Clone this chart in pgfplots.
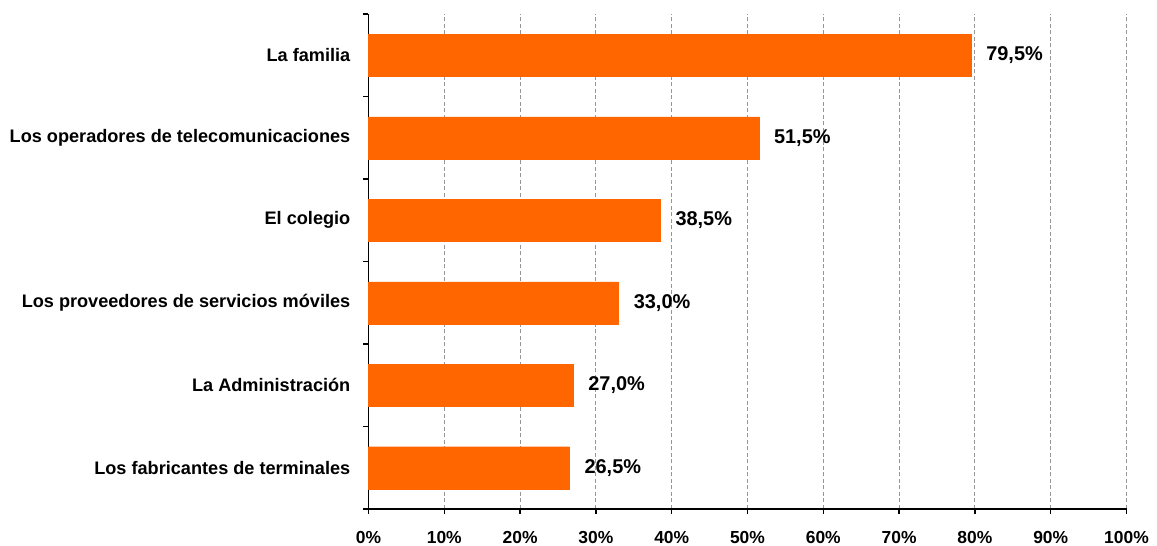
\documentclass[border=0pt]{standalone}
\usepackage{pgfplots}
\pgfplotsset{compat=1.18}
\usepackage{pgfplotstable}
\usepackage{fontspec}
\setmainfont{Liberation Sans}
\definecolor{barorange}{RGB}{255,102,0}
\definecolor{gridgray}{RGB}{150,150,150}
\pgfplotstableread{
y v lab
5 79.5 79,5\%
4 51.5 51,5\%
3 38.5 38,5\%
2 33.0 33,0\%
1 27.0 27,0\%
0 26.5 26,5\%
}\datatable
\begin{document}
\begin{tikzpicture}
\path[use as bounding box] (-368.5bp,-37bp) rectangle (788.5bp,509bp);
\begin{axis}[
  at={(0,0)}, anchor=south west,
  scale only axis,
  width=758bp, height=495bp,
  xbar, bar width=42bp,
  xmin=0, xmax=100,
  ymin=-0.5, ymax=5.5,
  axis x line=bottom, axis y line=left,
  axis line style={-, black, line width=1.3pt},
  xtick={0,10,...,100},
  xticklabels={0\%,10\%,20\%,30\%,40\%,50\%,60\%,70\%,80\%,90\%,100\%},
  xticklabel style={font=\fontsize{17.5}{20}\selectfont\bfseries, inner sep=0pt, anchor=north, yshift=-22bp},
  minor xtick={0,10,...,100},
  xminorgrids,
  minor grid style={gridgray, dash pattern=on 4bp off 2.5bp, line width=1bp},
  ytick={0,1,2,3,4,5},
  yticklabels={Los fabricantes de terminales, La Administración, Los proveedores de servicios móviles, El colegio, Los operadores de telecomunicaciones, La familia},
  yticklabel style={font=\fontsize{18.2}{20}\selectfont\bfseries, inner sep=0pt, anchor=east, xshift=-18bp},
  minor ytick={-0.5,0.5,1.5,2.5,3.5,4.5,5.5},
  major tick length=0pt,
  minor tick length=5bp,
  tick align=outside,
  every tick/.style={black, line width=1.3pt},
  point meta=explicit symbolic,
  nodes near coords,
  nodes near coords style={font=\fontsize{20}{22}\selectfont\bfseries, anchor=west, inner sep=0pt, xshift=15bp, black},
  clip=false,
]
\addplot[fill=barorange, draw=barorange] table[x=v, y=y, meta=lab] {\datatable};
\end{axis}
\end{tikzpicture}
\end{document}
